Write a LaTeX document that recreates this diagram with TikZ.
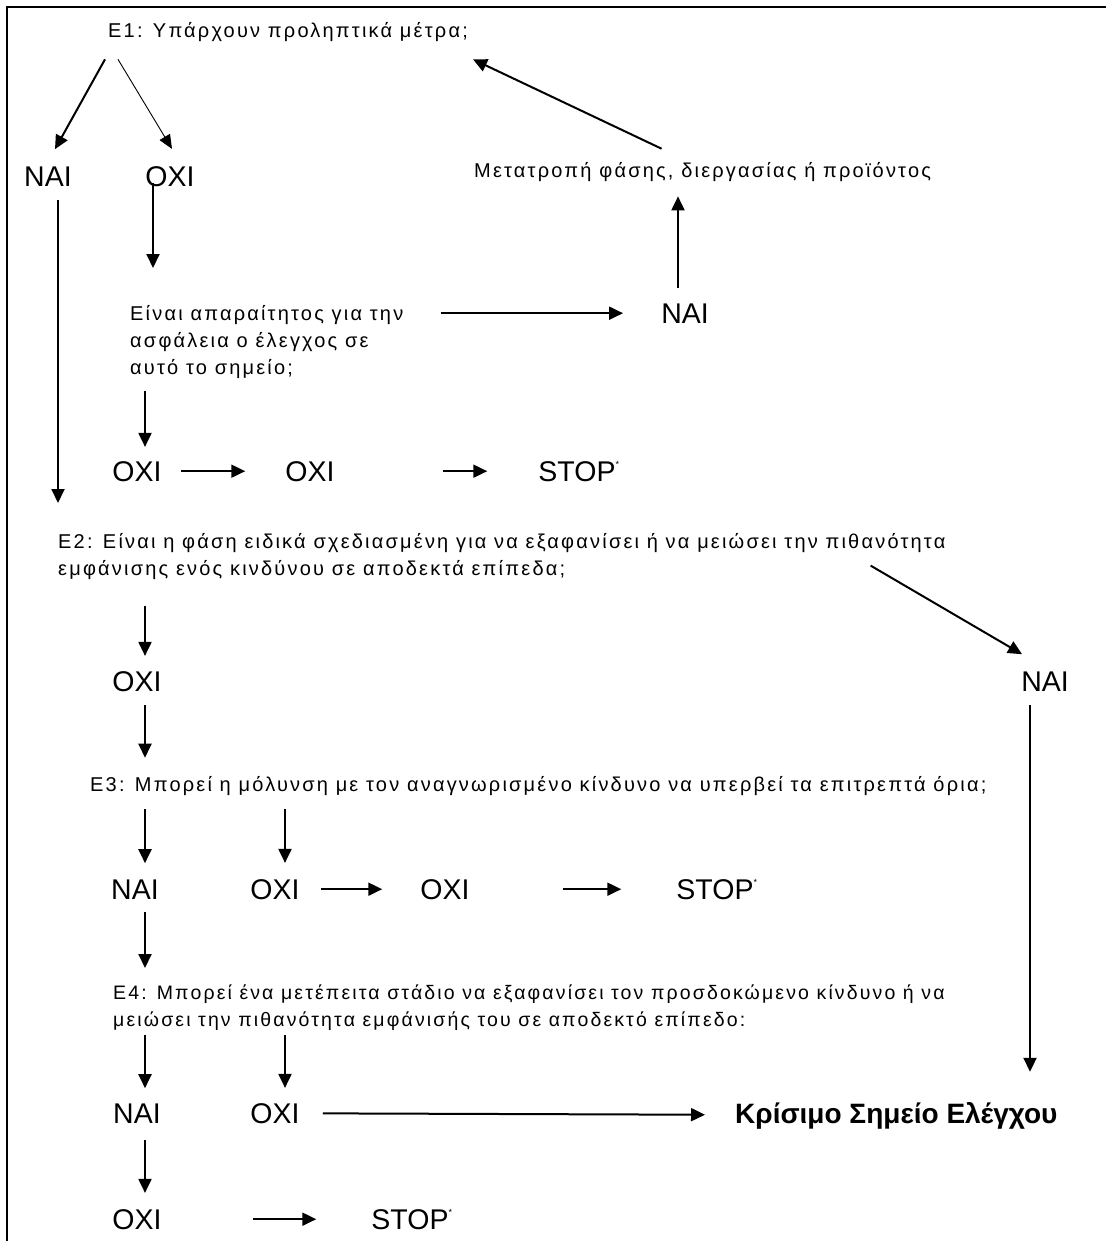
\documentclass[tikz,border=0pt]{standalone}
\usepackage{fontspec}
\setmainfont{Liberation Sans}
\newfontfamily\qfont[LetterSpace=11]{Liberation Sans}
\usetikzlibrary{arrows.meta,positioning,calc}
\tikzset{
  qtext/.style={font=\qfont\fontsize{20}{27}\selectfont,inner sep=0pt,anchor=base west},
  qblock/.style={font=\qfont\fontsize{20}{27}\selectfont,align=left,inner sep=0pt,anchor=north west},
  ans/.style={font=\fontsize{28.5}{29}\selectfont,inner sep=0pt,anchor=base},
  arr/.style={-{Triangle[length=14pt,width=13pt]},line width=2pt,black},
  thinarr/.style={-{Triangle[length=14pt,width=12pt]},line width=0.9pt,black}
}
\newcommand{\StopMark}{STOP\smash{\rlap{\fontsize{9}{9}\selectfont\raisebox{14pt}{*}}}}

\begin{document}
\begin{tikzpicture}[x=1pt,y=-1pt]
  \useasboundingbox (0,0) rectangle (1106,1241);
  \draw[line width=1.6pt] (7,1241) -- (7,7) -- (1106,7);

  % questions
  \node[qtext] (e1) at (108,38) {E1: Υπάρχουν προληπτικά μέτρα;};
  \node[qtext] (change) at (474,178) {Μετατροπή φάσης, διεργασίας ή προϊόντος};
  \node[qblock] (need) at (130,305) {Είναι απαραίτητος για την\\ασφάλεια ο έλεγχος σε\\αυτό το σημείο;};
  \node[qblock] (e2) at (58,533) {E2: Είναι η φάση ειδικά σχεδιασμένη για να εξαφανίσει ή να μειώσει την πιθανότητα\\εμφάνισης ενός κινδύνου σε αποδεκτά επίπεδα;};
  \node[qtext] (e3) at (90,791) {E3: Μπορεί η μόλυνση με τον αναγνωρισμένο κίνδυνο να υπερβεί τα επιτρεπτά όρια;};
  \node[qblock,font=\qfont\fontsize{19.5}{27}\selectfont] (e4) at (113,985) {E4: Μπορεί ένα μετέπειτα στάδιο να εξαφανίσει τον προσδοκώμενο κίνδυνο ή να\\μειώσει την πιθανότητα εμφάνισής του σε αποδεκτό επίπεδο:};

  % answers
  \node[ans] (nai1) at (48,187) {ΝΑΙ};
  \node[ans] (oxi1) at (170,187) {ΟΧΙ};
  \node[ans] (nai2) at (685,323) {ΝΑΙ};
  \node[ans] (oxi2) at (137,481) {ΟΧΙ};
  \node[ans] (oxi3) at (310,481) {ΟΧΙ};
  \node[ans] (stop1) at (577,481) {\StopMark};
  \node[ans] (nai3) at (1045,691) {ΝΑΙ};
  \node[ans] (oxi4) at (137,691) {ΟΧΙ};
  \node[ans] (nai4) at (135,899) {ΝΑΙ};
  \node[ans] (oxi5) at (275,899) {ΟΧΙ};
  \node[ans] (oxi6) at (445,899) {ΟΧΙ};
  \node[ans] (stop2) at (715,899) {\StopMark};
  \node[ans] (nai5) at (137,1123) {ΝΑΙ};
  \node[ans] (oxi7) at (275,1123) {ΟΧΙ};
  \node[ans,anchor=base west,font=\fontsize{28}{29}\selectfont\bfseries] (ccp) at (735,1123) {Κρίσιμο Σημείο Ελέγχου};
  \node[ans] (oxi8) at (137,1229) {ΟΧΙ};
  \node[ans] (stop3) at (410,1229) {\StopMark};

  % E1 branches
  \draw[arr] ($(e1.south west)+(-3,17)$) -- ($(nai1.north)+(7,-18)$);
  \draw[thinarr] ($(e1.south west)+(10,17)$) -- ($(oxi1.north)+(2,-18)$);
  \draw[arr] ($(change.north)+(-41,-14)$) -- ($(e1.south east)+(5,17)$);
  \draw[arr,shorten <=13pt,shorten >=30pt] (nai1.south -| e2.north west) -- (e2.north west);
  \draw[arr,shorten <=-4pt,shorten >=37pt] ($(oxi1.south)+(-17,0)$) -- ($(oxi1.south |- need.north)+(-17,0)$);
  \draw[arr,shorten <=37pt,shorten >=38pt] (need.east |- nai2.west) -- (nai2.west);
  \draw[arr,shorten <=15pt,shorten >=14pt] ($(nai2.north)+(-7,0)$) -- ($(nai2.north |- change.south)+(-7,0)$);

  % first OXI row
  \draw[arr,shorten <=12pt,shorten >=14pt] ($(need.south -| oxi2.north)+(8,0)$) -- ($(oxi2.north)+(8,0)$);
  \draw[arr,shorten <=19pt,shorten >=40pt] (oxi2) -- (oxi3);
  \draw[arr,shorten <=108pt,shorten >=51pt] (oxi3) -- (stop1);

  % E2
  \draw[arr] ($(e2.south east)+(-75,-14)$) -- ($(nai3.north)+(-23,-17)$);
  \draw[arr,shorten <=26pt,shorten >=15pt] ($(e2.south -| oxi4.north)+(8,0)$) -- ($(oxi4.north)+(8,0)$);
  \draw[arr,shorten <=14pt,shorten >=18pt] ($(oxi4.south)+(8,0)$) -- ($(oxi4.south |- e3.north)+(8,0)$);
  \draw[arr,shorten <=14pt,shorten >=30pt] ($(nai3.south)+(-15,0)$) -- ($(nai3.south |- ccp.north)+(-15,0)$);

  % E3
  \draw[arr,shorten <=14pt,shorten >=16pt] ($(e3.south -| nai4.north)+(10,0)$) -- ($(nai4.north)+(10,0)$);
  \draw[arr,shorten <=14pt,shorten >=16pt] ($(e3.south -| oxi5.north)+(10,0)$) -- ($(oxi5.north)+(10,0)$);
  \draw[arr,shorten <=21pt,shorten >=38pt] (oxi5) -- (oxi6);
  \draw[arr,shorten <=93pt,shorten >=55pt] (oxi6) -- (stop2);
  \draw[arr,shorten <=13pt,shorten >=17pt] ($(nai4.south)+(10,0)$) -- ($(nai4.south |- e4.north)+(10,0)$);

  % E4
  \draw[arr,shorten <=4pt,shorten >=15pt] ($(e4.south -| nai5.north)+(8,0)$) -- ($(nai5.north)+(8,0)$);
  \draw[arr,shorten <=4pt,shorten >=15pt] ($(e4.south -| oxi7.north)+(10,0)$) -- ($(oxi7.north)+(10,0)$);
  \draw[arr,shorten <=23pt,shorten >=30pt] (oxi7) -- (ccp);
  \draw[arr,shorten <=17pt,shorten >=16pt] ($(nai5.south)+(8,0)$) -- ($(nai5.south |- oxi8.north)+(8,0)$);
  \draw[arr,shorten <=91pt,shorten >=55pt] (oxi8) -- (stop3);
\end{tikzpicture}
\end{document}
